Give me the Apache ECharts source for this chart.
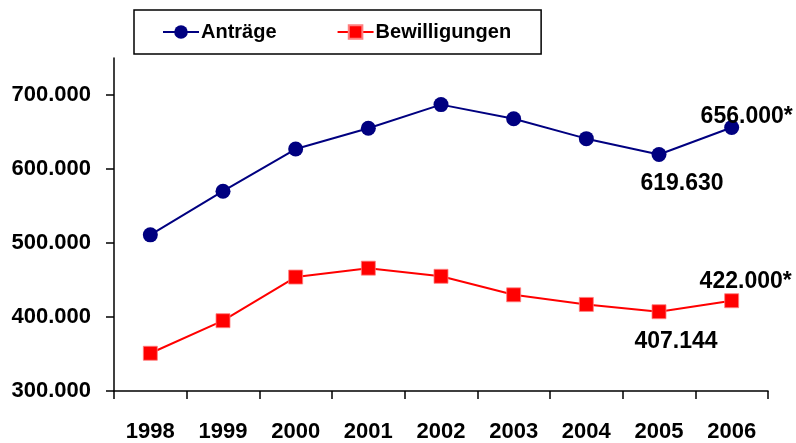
<!DOCTYPE html>
<html>
<head>
<meta charset="utf-8">
<script src="https://cdn.jsdelivr.net/npm/echarts@6/dist/echarts.min.js"></script>
<style>
html,body{margin:0;padding:0;background:#fff;}
#chart{width:796px;height:443px;}
</style>
</head>
<body>
<div id="chart"></div>
<script>
const years = ['1998','1999','2000','2001','2002','2003','2004','2005','2006'];
const antraege = [511000, 570000, 627000, 655000, 687000, 668000, 641000, 619630, 656000];
const bewilligungen = [351000, 395000, 454000, 466000, 455000, 430000, 417000, 407144, 422000];
const yTicks = [300000, 400000, 500000, 600000, 700000];
const seriesNames = ['Anträge', 'Bewilligungen'];
// annotated points: [index, text]
const antraegeNotes = [[7, '619.630'], [8, '656.000*']];
const bewilligungenNotes = [[7, '407.144'], [8, '422.000*']];

const FONT = '"Liberation Sans", Arial, sans-serif';
function fmt(v){ return String(v).replace(/\B(?=(\d{3})+(?!\d))/g, '.'); }

function buildData(values, notes, styles){
  return values.map((v, i) => {
    const n = notes.find(x => x[0] === i);
    if (!n) return v;
    const st = styles[i];
    return {
      value: v,
      label: {
        show: true,
        formatter: n[1],
        position: st.position,
        offset: st.offset,
        distance: 0,
        color: '#000',
        fontFamily: FONT,
        fontWeight: 'bold',
        fontSize: 23
      }
    };
  });
}

const chart = echarts.init(document.getElementById('chart'));
chart.setOption({
  backgroundColor: '#fff',
  animation: false,
  legend: {
    left: 134,
    top: 10,
    padding: [12, 30, 12, 28],
    itemGap: 60,
    itemWidth: 36,
    itemHeight: 17,
    borderColor: '#000',
    borderWidth: 1.5,
    borderRadius: 0,
    textStyle: { fontFamily: FONT, fontWeight: 'bold', fontSize: 20, lineHeight: 20, color: '#000', padding: [0,0,0,-3] },
    data: seriesNames
  },
  grid: { left: 114, right: 28, top: 58, bottom: 50 },
  xAxis: {
    type: 'category',
    data: years,
    boundaryGap: true,
    axisLine: { lineStyle: { color: '#000', width: 1.5 } },
    axisTick: { show: true, length: 8, lineStyle: { color: '#000', width: 1.5 } },
    axisLabel: { margin: 30, color: '#000', fontFamily: FONT, fontWeight: 'bold', fontSize: 22 },
    splitLine: { show: false }
  },
  yAxis: {
    type: 'value',
    min: 300000,
    max: 750000,
    interval: 100000,
    axisLine: { show: true, lineStyle: { color: '#000', width: 1.5 } },
    axisTick: { show: true, length: 8, customValues: yTicks, lineStyle: { color: '#000', width: 1.5 } },
    axisLabel: { customValues: yTicks, margin: 23, color: '#000', fontFamily: FONT, fontWeight: 'bold', fontSize: 22, formatter: v => fmt(v) },
    splitLine: { show: false }
  },
  series: [
    {
      name: seriesNames[0],
      type: 'line',
      data: buildData(antraege, antraegeNotes, {
        7: { position: 'bottom', offset: [23, 10] },
        8: { position: 'top', offset: [15, 8] }
      }),
      symbol: 'circle',
      symbolSize: 15,
      color: '#000080',
      itemStyle: { color: '#000080' },
      lineStyle: { color: '#000080', width: 2 }
    },
    {
      name: seriesNames[1],
      type: 'line',
      data: buildData(bewilligungen, bewilligungenNotes, {
        7: { position: 'bottom', offset: [17, 11] },
        8: { position: 'top', offset: [14, 0] }
      }),
      symbol: 'rect',
      symbolSize: 14,
      color: '#ff0000',
      itemStyle: { color: '#ff0000', borderColor: '#ff8080', borderWidth: 0.8 },
      lineStyle: { color: '#ff0000', width: 2 }
    }
  ]
});
</script>
</body>
</html>
